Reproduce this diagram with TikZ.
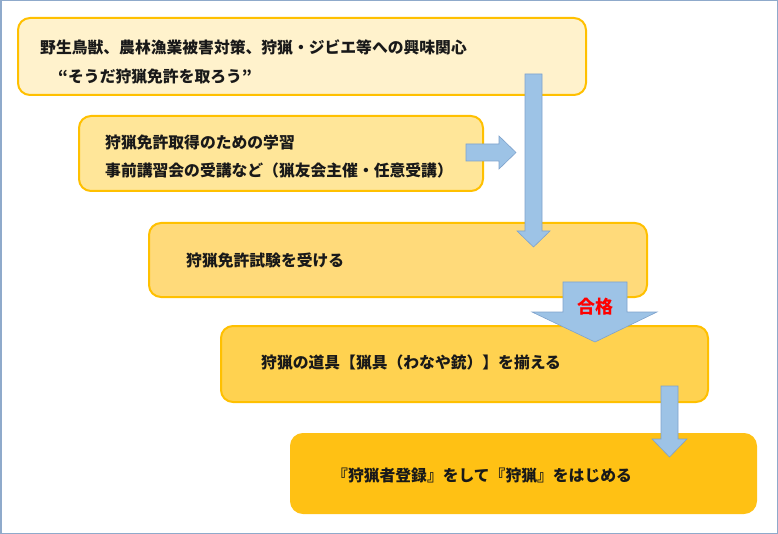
\documentclass[tikz,border=0pt]{standalone}
\usepackage{fontspec}
\setmainfont{Noto Sans CJK JP}
\usetikzlibrary{positioning}

\definecolor{frameblue}{HTML}{8FAACB}
\definecolor{edgegold}{HTML}{FFC000}
\definecolor{arrowfill}{HTML}{9DC3E6}
\definecolor{arrowedge}{HTML}{7EA2CC}

\tikzset{
  stagebox/.style={draw=edgegold, line width=2pt, rounded corners=12pt, minimum width=#1},
  stagetext/.style={anchor=west, align=left, font=\fontsize{15.8}{28}\selectfont\bfseries, text=black!90, inner sep=0pt},
  blockarrow/.style={fill=arrowfill, draw=arrowedge, line width=0.6pt, line join=miter}
}

\begin{document}
\begin{tikzpicture}[x=1pt, y=-1pt]
            \useasboundingbox (0,0) rectangle (778,534);
            \draw[frameblue, line width=1.5pt] (0.75,0.75) rectangle (777.25,533.25);
            % stages
            \node[stagebox=568pt, minimum height=77pt, fill={rgb,255:red,255;green,242;blue,204}, anchor=north west] (kyomi) at (17,17) {};
            \node[stagebox=404pt, minimum height=75pt, fill={rgb,255:red,255;green,230;blue,153}, anchor=north west] (gakushu) at (78,115) {};
            \node[stagebox=498pt, minimum height=74pt, fill={rgb,255:red,255;green,218;blue,122}, anchor=north west] (shiken) at (148,222) {};
            \node[stagebox=487pt, minimum height=76pt, fill={rgb,255:red,255;green,210;blue,80}, anchor=north west] (dogu) at (220,325) {};
            \node[stagebox=465pt, minimum height=79pt, fill={rgb,255:red,255;green,193;blue,20}, draw={rgb,255:red,255;green,193;blue,20}, anchor=north west] (toroku) at (290,433) {};
            \node[stagetext] (kyomitext) at ([xshift=23pt, yshift=-5pt]kyomi.west) {野生鳥獣、農林漁業被害対策、狩猟・ジビエ等への興味関心\\[1pt]\hspace{18pt}“そうだ狩猟免許を取ろう”};
            \node[stagetext] (gakushutext) at ([xshift=27pt, yshift=-3.5pt]gakushu.west) {狩猟免許取得のための学習\\事前講習会の受講など（猟友会主催・任意受講）};
            \node[stagetext] (shikentext) at ([xshift=38pt, yshift=-1pt]shiken.west) {狩猟免許試験を受ける};
            \node[stagetext] (dogutext) at ([xshift=41pt, yshift=1pt]dogu.west) {狩猟の道具【猟具（わなや銃）】を揃える};
            \node[stagetext] (torokutext) at ([xshift=42pt, yshift=-2.5pt]toroku.west) {『狩猟者登録』をして『狩猟』をはじめる};
            % block arrows
            \draw[blockarrow] (525,74) -- (542,74) -- (542,231) -- (550,231) -- (533.5,247) -- (517,231) -- (525,231) -- cycle;
            \draw[blockarrow] (466,144) -- (499,144) -- (499,136) -- (516,152.5) -- (499,169) -- (499,161) -- (466,161) -- cycle;
            \draw[blockarrow] (563,282) -- (627,282) -- (627,312) -- (657,312) -- (595,342) -- (532,312) -- (563,312) -- cycle;
            \draw[blockarrow] (661,386) -- (678,386) -- (678,439) -- (687,439) -- (669.5,457) -- (652,439) -- (661,439) -- cycle;
            \node[font=\fontsize{18}{20}\selectfont\bfseries, text=red, inner sep=0pt] (gokaku) at (595,307) {合格};
        \end{tikzpicture}
\end{document}
